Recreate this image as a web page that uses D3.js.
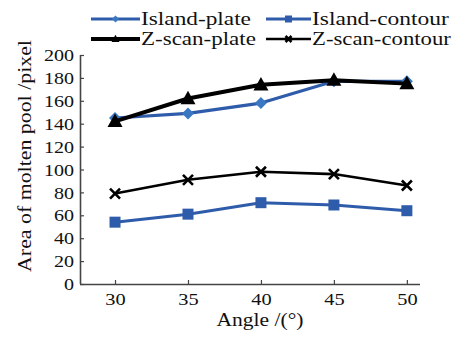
<!DOCTYPE html>
<html>
<head>
<meta charset="utf-8">
<script src="https://cdn.jsdelivr.net/npm/d3@7"></script>
<style>
  html, body { margin: 0; padding: 0; background: #fff; }
  svg { display: block; }
  text { font-family: "Liberation Serif", "DejaVu Serif", serif; fill: #111; }
</style>
</head>
<body>
<svg id="chart" width="468" height="338"></svg>
<script>
// Scan angle (degrees)
const angles = [30, 35, 40, 45, 50];

// Molten pool area (pixels) per scan strategy
const islandPlate   = [145, 149, 158, 177, 177];
const islandContour = [54, 61, 71, 69, 64];
const zscanPlate    = [142, 162, 174, 178, 175];
const zscanContour  = [79, 91, 98, 96, 86];

const yTicks = [0, 20, 40, 60, 80, 100, 120, 140, 160, 180, 200];

const seriesNames = ["Island-plate", "Island-contour", "Z-scan-plate", "Z-scan-contour"];

const BLUE = "#2f5caa";
const BLUE_LIGHT = "#3b78c2";
const FONT = "Liberation Serif";

const series = [
  { name: seriesNames[0], values: islandPlate,   color: BLUE,   width: 3.2, marker: "diamond",  mColor: BLUE_LIGHT },
  { name: seriesNames[1], values: islandContour, color: BLUE,   width: 3,   marker: "square",   mColor: BLUE },
  { name: seriesNames[2], values: zscanPlate,    color: "#000", width: 4,   marker: "triangle", mColor: "#000" },
  { name: seriesNames[3], values: zscanContour,  color: "#000", width: 2.6, marker: "cross",    mColor: "#000" }
];

const svg = d3.select("#chart");

// Widen text horizontally (wide book-face look): either by a factor, or to a
// given width. Position is moved into a transform so the anchor stays put.
function widen(sel, opt) {
  sel.each(function () {
    const t = d3.select(this);
    const w = this.getComputedTextLength();
    const s = opt.width ? opt.width / w : opt.factor;
    const px = +t.attr("x") || 0;
    const py = +t.attr("y") || 0;
    const rot = opt.rotate ? ` rotate(${opt.rotate})` : "";
    t.attr("x", 0).attr("y", 0)
      .attr("transform", `translate(${px},${py})${rot} scale(${s},1)`);
  });
}

// plot area
const x = d3.scaleLinear().domain([27.6, 50.9]).range([80, 420]);
const y = d3.scaleLinear().domain([0, 200]).range([284, 55]);

const axisColor = "#444";

// y axis
const yAxis = svg.append("g")
  .attr("transform", "translate(80,0)")
  .call(d3.axisLeft(y).tickValues(yTicks).tickSizeInner(-4).tickSizeOuter(0).tickPadding(6));
yAxis.select(".domain").attr("stroke", axisColor).attr("stroke-width", 1.6)
  .attr("d", `M0.5,${y(200)}V${y(0)}`);
yAxis.selectAll(".tick line").attr("stroke", axisColor).attr("stroke-width", 1.2);
yAxis.selectAll(".tick text")
  .attr("font-size", 17).attr("font-family", FONT).attr("fill", "#111")
  .attr("dy", "0.33em")
  .call(widen, { factor: 1.18 });

// x axis
const xAxis = svg.append("g")
  .attr("transform", "translate(0,284)")
  .call(d3.axisBottom(x).tickValues(angles).tickFormat(d3.format("d")).tickSizeInner(-4).tickSizeOuter(0).tickPadding(7));
xAxis.select(".domain").attr("stroke", axisColor).attr("stroke-width", 1.6)
  .attr("d", `M80,0.5H420`);
xAxis.selectAll(".tick line").attr("stroke", axisColor).attr("stroke-width", 1.2);
xAxis.selectAll(".tick text")
  .attr("font-size", 17).attr("font-family", FONT).attr("fill", "#111")
  .attr("y", 21).attr("dy", null)
  .call(widen, { factor: 1.2 });

// axis titles
svg.append("text")
  .attr("x", 260).attr("y", 326)
  .attr("text-anchor", "middle")
  .attr("font-size", 19)
  .text("Angle /(°)")
  .call(widen, { width: 87 });

svg.append("text")
  .attr("x", 31).attr("y", (272 + 40) / 2)
  .attr("text-anchor", "middle")
  .attr("font-size", 19)
  .text("Area of molten pool /pixel")
  .call(widen, { width: 232, rotate: -90 });

// marker drawing
function drawMarker(g, type, cx, cy, size, color) {
  const r = size / 2;
  if (type === "diamond") {
    g.append("path").attr("d", `M${cx},${cy - r}L${cx + r},${cy}L${cx},${cy + r}L${cx - r},${cy}Z`)
      .attr("fill", color);
  } else if (type === "square") {
    g.append("rect").attr("x", cx - r).attr("y", cy - r).attr("width", size).attr("height", size)
      .attr("fill", color);
  } else if (type === "triangle") {
    g.append("path").attr("d", `M${cx},${cy - r * 1.05}L${cx + r},${cy + r * 0.75}L${cx - r},${cy + r * 0.75}Z`)
      .attr("fill", color);
  } else if (type === "cross") {
    g.append("path").attr("d", `M${cx - r},${cy - r}L${cx + r},${cy + r}M${cx - r},${cy + r}L${cx + r},${cy - r}`)
      .attr("stroke", color).attr("stroke-width", 2.6).attr("fill", "none");
  }
}

const markerSize = { diamond: 12, square: 11, triangle: 15, cross: 10 };

// draw order: contours first, then plates (Z-scan-plate on top of Island-plate)
const order = [1, 3, 0, 2];
const line = d3.line().x((d, i) => x(angles[i])).y(d => y(d));

order.forEach(k => {
  const s = series[k];
  const g = svg.append("g");
  g.append("path")
    .datum(s.values)
    .attr("d", line)
    .attr("fill", "none")
    .attr("stroke", s.color)
    .attr("stroke-width", s.width)
    .attr("stroke-linejoin", "round");
  s.values.forEach((v, i) => drawMarker(g, s.marker, x(angles[i]), y(v), markerSize[s.marker], s.mColor));
});

// legend
const legendPos = [
  { lx: 91, ly: 19, len: 49, tw: 110 },
  { lx: 266, ly: 19, len: 45, tw: 137 },
  { lx: 91, ly: 39, len: 49, tw: 115 },
  { lx: 266, ly: 39, len: 45, tw: 139 }
];
const legendMarkerSize = { diamond: 7, square: 7, triangle: 8, cross: 6 };

series.forEach((s, k) => {
  const p = legendPos[k];
  const g = svg.append("g");
  g.append("line")
    .attr("x1", p.lx).attr("x2", p.lx + p.len)
    .attr("y1", p.ly).attr("y2", p.ly)
    .attr("stroke", s.color).attr("stroke-width", s.width);
  drawMarker(g, s.marker, p.lx + p.len / 2, p.ly, legendMarkerSize[s.marker], s.mColor);
  g.append("text")
    .attr("x", p.lx + p.len + 1).attr("y", p.ly + 6)
    .attr("font-size", 18)
    .text(s.name)
    .call(widen, { width: p.tw });
});
</script>
</body>
</html>
